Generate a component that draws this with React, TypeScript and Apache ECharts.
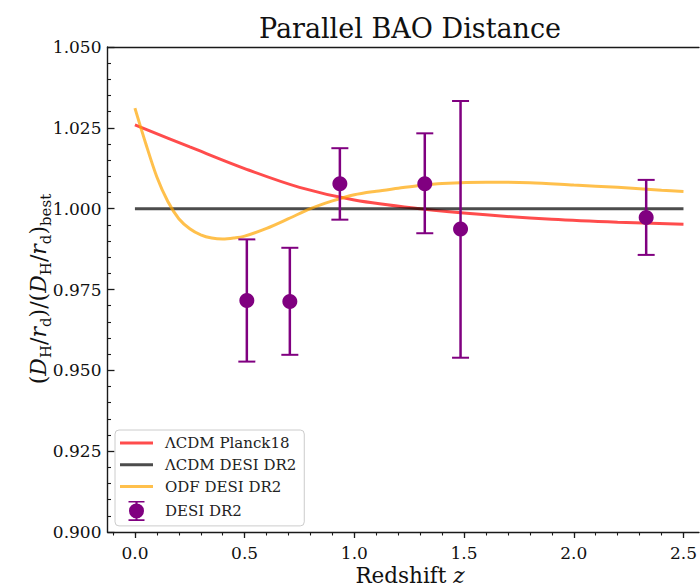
import React, { useEffect, useRef } from "react";
import * as echarts from "echarts";

// ---- data ----
const planckZ = [0, 0.25, 0.5, 0.75, 1.0, 1.3, 1.6, 1.9, 2.2, 2.5];
const planckV = [1.0259, 1.0191, 1.0124, 1.0066, 1.0027, 1.0, 0.9981, 0.9967, 0.9958, 0.9952];

const lcdmZ = [0, 2.5];
const lcdmV = [1.0, 1.0];

const odfZ = [0, 0.05, 0.1, 0.15, 0.2, 0.25, 0.3, 0.35, 0.4, 0.45, 0.5, 0.6, 0.7, 0.8, 0.9, 1.0, 1.1, 1.2, 1.3, 1.4, 1.6, 1.8, 2.0, 2.2, 2.4, 2.5];
const odfV = [1.0311, 1.02, 1.0098, 1.0022, 0.9969, 0.9938, 0.9919, 0.9909, 0.9906, 0.9909, 0.9915, 0.9939, 0.9969, 1.0, 1.0024, 1.0043, 1.0054, 1.0063, 1.0072, 1.0078, 1.0082, 1.008, 1.0073, 1.0066, 1.0057, 1.0053];

const desiZ = [0.51, 0.706, 0.934, 1.321, 1.484, 2.33];
const desiV = [0.9716, 0.9713, 1.0077, 1.0077, 0.9937, 0.9973];
const desiLo = [0.9527, 0.9548, 0.9966, 0.9924, 0.9539, 0.9857];
const desiHi = [0.9905, 0.9879, 1.0187, 1.0233, 1.0333, 1.0089];

const xMajorTicks = [0, 0.5, 1.0, 1.5, 2.0, 2.5];
const xMinorTicks = [-0.1, 0, 0.1, 0.2, 0.3, 0.4, 0.5, 0.6, 0.7, 0.8, 0.9, 1.0, 1.1, 1.2, 1.3, 1.4, 1.5, 1.6, 1.7, 1.8, 1.9, 2.0, 2.1, 2.2, 2.3, 2.4, 2.5];

const FONT = "DejaVu Serif";
const PURPLE = "#800080";
const AX = "#1a1a1a";
const X_MIN = -0.125;
const X_MAX = 2.5706;

const lineIcon = "path://M0,0H33V3H0Z";
const errIcon =
  "path://M8.5,0H24.5V1.6H17.6V18.4H24.5V20H8.5V18.4H15.4V1.6H8.5Z" +
  "M24,10A7.5,7.5 0 1 1 9,10A7.5,7.5 0 1 1 24,10Z";

export default function App() {
  const ref = useRef<HTMLDivElement>(null);
  useEffect(() => {
    if (!ref.current) return;
    const chart = echarts.init(ref.current, null, { renderer: "svg" });
    const option: any = {
      animation: false,
      backgroundColor: "#ffffff",
      grid: {
        left: 107.5,
        top: 47,
        right: 0,
        height: 485,
        show: false,
      },
      legend: {
        orient: "vertical",
        left: 115,
        top: 430,
        data: [
          { name: "ΛCDM Planck18", icon: lineIcon },
          { name: "ΛCDM DESI DR2", icon: lineIcon },
          { name: "ODF DESI DR2", icon: lineIcon },
          { name: "DESI DR2", icon: errIcon },
        ],
        itemWidth: 33,
        itemHeight: 20,
        itemGap: 6.8,
        padding: [5.5, 8, 5, 5],
        backgroundColor: "rgba(255,255,255,0.8)",
        borderColor: "#cccccc",
        borderWidth: 1,
        borderRadius: 4,
        selectedMode: false,
        itemStyle: { borderWidth: 0 },
        textStyle: { fontFamily: FONT, fontSize: 15, color: "#222", padding: [0, 0, 0, 7] },
      },
      xAxis: [
        {
          type: "value",
          min: X_MIN,
          max: X_MAX,
          position: "bottom",
          axisLine: { show: true, onZero: false, lineStyle: { color: AX, width: 1.4 } },
          axisTick: { show: true, customValues: xMajorTicks, length: 6, lineStyle: { color: AX, width: 1.3 } },
          axisLabel: {
            customValues: xMajorTicks,
            formatter: (v: number) => v.toFixed(1),
            margin: 12,
            fontFamily: FONT,
            fontSize: 17,
            color: "#111",
          },
          splitLine: { show: false },
        },
        {
          type: "value",
          min: X_MIN,
          max: X_MAX,
          position: "bottom",
          axisLine: { show: false, onZero: false },
          axisTick: { show: true, customValues: xMinorTicks, length: 3.5, lineStyle: { color: AX, width: 1.1 } },
          axisLabel: { show: false },
          splitLine: { show: false },
        },
        {
          type: "value",
          min: X_MIN,
          max: X_MAX,
          position: "top",
          axisLine: { show: true, onZero: false, lineStyle: { color: AX, width: 1.4 } },
          axisTick: { show: false },
          axisLabel: { show: false },
          splitLine: { show: false },
        },
      ],
      yAxis: {
        type: "value",
        min: 0.9,
        max: 1.05,
        interval: 0.025,
        axisLine: { show: true, onZero: false, lineStyle: { color: AX, width: 1.4 } },
        axisTick: { show: true, inside: true, length: 7, lineStyle: { color: AX, width: 1.3 } },
        minorTick: { show: true, splitNumber: 5, length: 3.5, lineStyle: { color: AX, width: 1.1 } },
        axisLabel: {
          formatter: (v: number) => v.toFixed(3),
          margin: 6,
          fontFamily: FONT,
          fontSize: 17,
          color: "#111",
        },
        splitLine: { show: false },
        minorSplitLine: { show: false },
      },
      graphic: [
        {
          type: "text",
          x: 410,
          y: 28,
          style: {
            text: "Parallel BAO Distance",
            fontFamily: FONT,
            fontSize: 27,
            fill: "#111",
            textAlign: "center",
            textVerticalAlign: "middle",
          },
        },
        {
          type: "text",
          x: 410,
          y: 575,
          style: {
            text: "Redshift {i|z}",
            fontFamily: FONT,
            fontSize: 21.5,
            lineHeight: 21,
            fill: "#111",
            textAlign: "center",
            textVerticalAlign: "middle",
            rich: {
              i: { fontFamily: FONT, fontStyle: "italic", fontSize: 21.5, lineHeight: 21, fill: "#111" },
            },
          },
        },
        {
          type: "text",
          x: 38,
          y: 289,
          rotation: Math.PI / 2,
          style: {
            text: "({i|D}{s|H}/{i|r}{s|d})/({i|D}{s|H}/{i|r}{s|d}){s|best}",
            fontFamily: FONT,
            fontSize: 22,
            lineHeight: 30,
            fill: "#111",
            textAlign: "center",
            textVerticalAlign: "middle",
            rich: {
              i: { fontFamily: FONT, fontStyle: "italic", fontSize: 22, lineHeight: 30, fill: "#111" },
              s: { fontFamily: FONT, fontSize: 15, lineHeight: 15, verticalAlign: "bottom", fill: "#111" },
            },
          },
        },
      ],
      series: [
        {
          name: "ΛCDM Planck18",
          type: "line",
          data: planckZ.map((z, i) => [z, planckV[i]]),
          smooth: 0.35,
          symbol: "none",
          showSymbol: false,
          color: "rgba(255,0,0,0.7)",
          lineStyle: { color: "rgba(255,0,0,0.7)", width: 3 },
          z: 2,
        },
        {
          name: "ΛCDM DESI DR2",
          type: "line",
          data: lcdmZ.map((z, i) => [z, lcdmV[i]]),
          symbol: "none",
          showSymbol: false,
          color: "rgba(0,0,0,0.7)",
          lineStyle: { color: "rgba(0,0,0,0.7)", width: 3 },
          z: 2,
        },
        {
          name: "ODF DESI DR2",
          type: "line",
          data: odfZ.map((z, i) => [z, odfV[i]]),
          smooth: 0.3,
          symbol: "none",
          showSymbol: false,
          color: "rgba(255,165,0,0.7)",
          lineStyle: { color: "rgba(255,165,0,0.7)", width: 3 },
          z: 2,
        },
        {
          name: "DESI DR2 errors",
          type: "custom",
          data: desiZ.map((z, i) => [z, desiLo[i], desiHi[i]]),
          encode: { x: 0, y: [1, 2] },
          z: 3,
          renderItem: (params: any, api: any) => {
            const x = api.value(0);
            const pLo = api.coord([x, api.value(1)]);
            const pHi = api.coord([x, api.value(2)]);
            const cap = 8.5;
            const st = { stroke: PURPLE, lineWidth: 2.5 };
            const cst = { stroke: PURPLE, lineWidth: 2 };
            return {
              type: "group",
              children: [
                { type: "line", shape: { x1: pLo[0], y1: pLo[1], x2: pHi[0], y2: pHi[1] }, style: st },
                { type: "line", shape: { x1: pLo[0] - cap, y1: pLo[1], x2: pLo[0] + cap, y2: pLo[1] }, style: cst },
                { type: "line", shape: { x1: pHi[0] - cap, y1: pHi[1], x2: pHi[0] + cap, y2: pHi[1] }, style: cst },
              ],
            };
          },
        },
        {
          name: "DESI DR2",
          type: "scatter",
          data: desiZ.map((z, i) => [z, desiV[i]]),
          symbol: "circle",
          symbolSize: 15,
          color: PURPLE,
          itemStyle: { color: PURPLE, opacity: 1 },
          z: 4,
        },
      ],
    };
    chart.setOption(option);
    return () => chart.dispose();
  }, []);
  return (
    <div
      ref={ref}
      style={{ position: "fixed", left: 0, top: 0, width: 700, height: 586, background: "#fff" }}
    />
  );
}
